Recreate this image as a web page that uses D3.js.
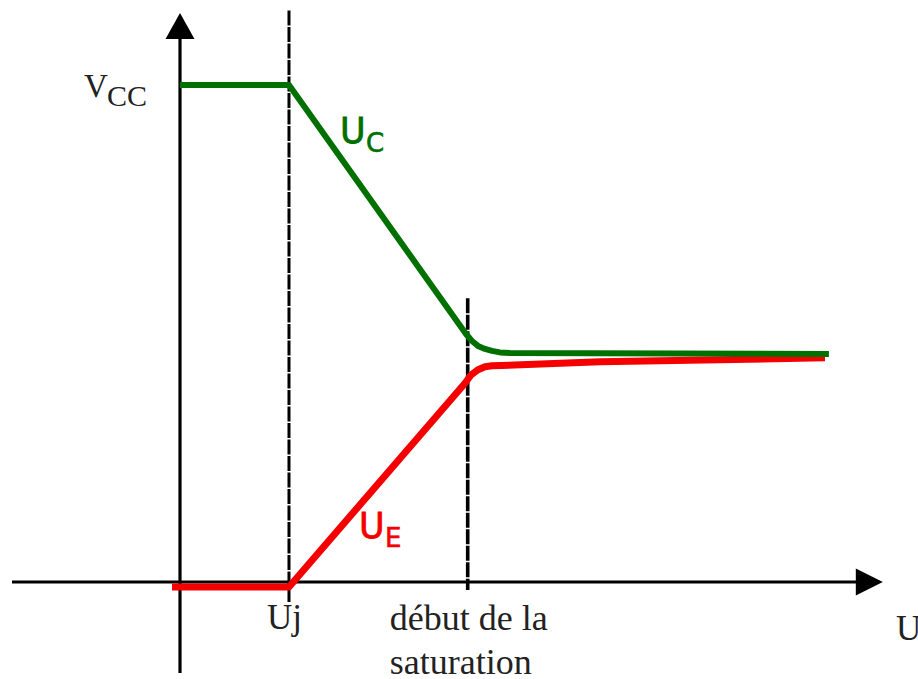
<!DOCTYPE html>
<html>
<head>
<meta charset="utf-8">
<script src="https://cdn.jsdelivr.net/npm/d3@7"></script>
<style>
  html, body { margin: 0; padding: 0; background: #fff; }
  svg { display: block; }
</style>
</head>
<body>
<svg id="chart" width="918" height="679"></svg>
<script>
// ---- data (in volts, arbitrary units; Vcc = 10) ----
const vcc = 10;
const uj = 1.557;            // threshold Uj
const satStart = 4.11;       // début de la saturation
const xTickLabels = ["Uj", ["début de la", "saturation"]];
const ucX = [0, 1.557, 4.086, 4.171, 4.257, 4.357, 4.457, 4.571, 4.714, 9.27];
const ucY = [10, 10, 4.99, 4.85, 4.75, 4.69, 4.65, 4.62, 4.61, 4.59];
const ueX = [-0.114, 1.557, 4.071, 4.157, 4.257, 4.357, 4.457, 6.0, 9.214];
const ueY = [-0.10, -0.10, 4.00, 4.165, 4.27, 4.33, 4.35, 4.43, 4.51];
const dash1Y = [-0.4, 11.5];   // extent of dashed line at Uj
const dash2Y = [-0.16, 5.71];  // extent of dashed line at saturation
const seriesNames = ["U", "C", "U", "E"];
const axisNames = ["V", "CC", "U"];

// ---- scales ----
const x = d3.scaleLinear().domain([0, 10]).range([180, 880]);
const y = d3.scaleLinear().domain([0, vcc]).range([582, 85]);

const svg = d3.select("#chart");

// ---- axes ----
const xAxisStart = x(-2.4), xAxisTip = x(10.04);
const yAxisBottom = y(-1.83), yAxisTip = y(11.45);

svg.append("line")
  .attr("x1", xAxisStart).attr("x2", xAxisTip - 20)
  .attr("y1", y(0)).attr("y2", y(0))
  .attr("stroke", "#000").attr("stroke-width", 3);
svg.append("path")
  .attr("d", `M${xAxisTip},${y(0)} L${xAxisTip - 27},${y(0) - 13.5} L${xAxisTip - 27},${y(0) + 13.5} Z`)
  .attr("fill", "#000");

svg.append("line")
  .attr("x1", x(0)).attr("x2", x(0))
  .attr("y1", yAxisBottom).attr("y2", yAxisTip + 20)
  .attr("stroke", "#000").attr("stroke-width", 3.2);
svg.append("path")
  .attr("d", `M${x(0)},${yAxisTip} L${x(0) - 14.5},${yAxisTip + 26} L${x(0) + 14.5},${yAxisTip + 26} Z`)
  .attr("fill", "#000");

// ---- dashed guides ----
svg.append("line")
  .attr("x1", x(uj)).attr("x2", x(uj))
  .attr("y1", y(dash1Y[1])).attr("y2", y(dash1Y[0]))
  .attr("stroke", "#000").attr("stroke-width", 3)
  .attr("stroke-dasharray", "15,1.5");
svg.append("line")
  .attr("x1", x(satStart)).attr("x2", x(satStart))
  .attr("y1", y(dash2Y[1])).attr("y2", y(dash2Y[0]))
  .attr("stroke", "#000").attr("stroke-width", 3.6)
  .attr("stroke-dasharray", "15,1.5");

// ---- curves ----
const line = d3.line().x(d => x(d[0])).y(d => y(d[1])).curve(d3.curveLinear);
const ue = ueX.map((v, i) => [v, ueY[i]]);
const uc = ucX.map((v, i) => [v, ucY[i]]);

svg.append("path").attr("d", line(ue))
  .attr("fill", "none").attr("stroke", "#f40000")
  .attr("stroke-width", 7).attr("stroke-linejoin", "round");
svg.append("path").attr("d", line(uc))
  .attr("fill", "none").attr("stroke", "#007000")
  .attr("stroke-width", 6).attr("stroke-linejoin", "round");

// ---- labels ----
const serif = "'Liberation Serif', 'Times New Roman', serif";
const sans = "'DejaVu Sans', Verdana, sans-serif";

// Vcc
svg.append("text").attr("x", 84).attr("y", y(vcc) + 12)
  .attr("font-family", serif).attr("font-size", 33).attr("fill", "#222")
  .text(axisNames[0]);
svg.append("text").attr("x", 107).attr("y", y(vcc) + 21)
  .attr("font-family", serif).attr("font-size", 30).attr("fill", "#222")
  .text(axisNames[1]);

// x tick labels
svg.append("text").attr("x", x(uj) - 22).attr("y", 629)
  .attr("font-family", serif).attr("font-size", 35).attr("fill", "#222")
  .text(xTickLabels[0]);
const sat = svg.append("text").attr("x", x(satStart) - 78).attr("y", 630)
  .attr("font-family", serif).attr("font-size", 36).attr("fill", "#222");
xTickLabels[1].forEach((t, i) => {
  sat.append("tspan").attr("x", x(satStart) - 78).attr("dy", i === 0 ? 0 : 44).text(t);
});

// x axis name
svg.append("text").attr("x", 896).attr("y", 640)
  .attr("font-family", serif).attr("font-size", 35).attr("fill", "#222")
  .text(axisNames[2]);

// Uc
svg.append("text").attr("x", 340).attr("y", 143)
  .attr("font-family", sans).attr("font-size", 35).attr("fill", "#007000")
  .attr("stroke", "#007000").attr("stroke-width", 0.8)
  .text(seriesNames[0]);
svg.append("text").attr("x", 366).attr("y", 152)
  .attr("font-family", sans).attr("font-size", 26).attr("fill", "#007000")
  .attr("stroke", "#007000").attr("stroke-width", 0.6)
  .text(seriesNames[1]);

// Ue
svg.append("text").attr("x", 359).attr("y", 538)
  .attr("font-family", sans).attr("font-size", 35).attr("fill", "#f40000")
  .attr("stroke", "#f40000").attr("stroke-width", 0.8)
  .text(seriesNames[2]);
svg.append("text").attr("x", 385).attr("y", 547)
  .attr("font-family", sans).attr("font-size", 26).attr("fill", "#f40000")
  .attr("stroke", "#f40000").attr("stroke-width", 0.6)
  .text(seriesNames[3]);
</script>
</body>
</html>
